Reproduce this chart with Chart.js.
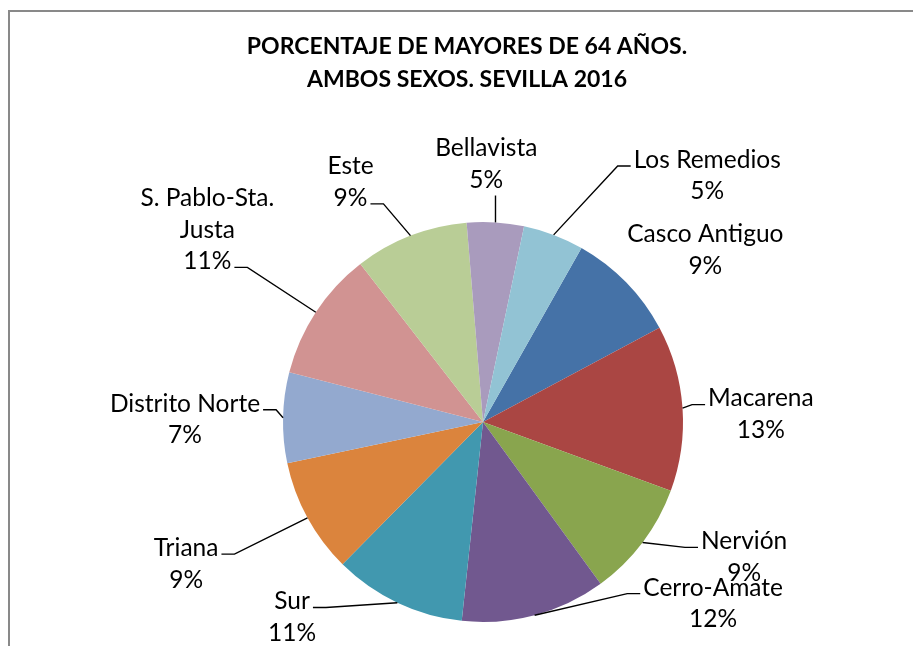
<!DOCTYPE html>
<html>
<head>
<meta charset="utf-8">
<script src="https://cdn.jsdelivr.net/npm/chart.js@4.4.0/dist/chart.umd.min.js"></script>
<style>
    html, body { margin: 0; padding: 0; background: #fff; }
</style>
</head>
<body>
<canvas id="myChart" width="913" height="646"></canvas>
<script>
var titleLines = ['PORCENTAJE DE MAYORES DE 64 AÑOS.', 'AMBOS SEXOS. SEVILLA 2016'];
var districts = [['Casco Antiguo'], ['Macarena'], ['Nervión'], ['Cerro-Amate'], ['Sur'], ['Triana'],
    ['Distrito Norte'], ['S. Pablo-Sta.', 'Justa'], ['Este'], ['Bellavista'], ['Los Remedios']];
var shares = [9.0, 13.4, 9.4, 11.7, 10.7, 9.3, 7.3, 10.5, 9.2, 4.6, 4.9];
var colors = ['#4572A7', '#AA4643', '#89A54E', '#71588F', '#4198AF', '#DB843D',
    '#93A9CF', '#D19392', '#B9CD96', '#A99BBD', '#92C3D4'];

// where each label sits: [angle shift from slice middle (deg), distance in radii]
var labelPlace = [[6.6, 1.405], [2.4, 1.39], [-9.7, 1.47], [-36.8, 1.465], [19, 1.365], [3.1, 1.645],
    [-0.75, 1.49], [1.6, 1.68], [-7.65, 1.37], [-2.85, 1.29], [21.65, 1.665]];

var LABEL_FONT = '24.5px Lato';
var LINE_H = 31.5;

// frame + title
const frame = {
    id: 'frame',
    beforeDraw(chart) {
        const ctx = chart.ctx;
        ctx.save();
        ctx.fillStyle = '#fff';
        ctx.fillRect(0, 0, chart.width, chart.height);
        ctx.strokeStyle = '#898989';
        ctx.lineWidth = 2;
        ctx.beginPath();
        ctx.moveTo(9, chart.height);
        ctx.lineTo(9, 11);
        ctx.lineTo(chart.width, 11);
        ctx.stroke();
        ctx.fillStyle = '#000';
        ctx.font = 'bold 23px Lato';
        ctx.textAlign = 'center';
        ctx.textBaseline = 'middle';
        titleLines.forEach((t, i) => ctx.fillText(t, 467, 47 + i * 33));
        ctx.restore();
    }
};

// outside labels with leader lines
const pieLabels = {
    id: 'pieLabels',
    afterDatasetsDraw(chart) {
        const ctx = chart.ctx;
        const meta = chart.getDatasetMeta(0);
        const total = shares.reduce((a, b) => a + b, 0);
        ctx.save();
        ctx.font = LABEL_FONT;
        ctx.fillStyle = '#000';
        ctx.strokeStyle = '#000';
        ctx.lineWidth = 1.4;
        ctx.textAlign = 'center';
        ctx.textBaseline = 'middle';
        meta.data.forEach((arc, i) => {
            const p = arc.getProps(['x', 'y', 'startAngle', 'endAngle', 'outerRadius'], true);
            const mid = (p.startAngle + p.endAngle) / 2;
            const a = mid + labelPlace[i][0] * Math.PI / 180;
            const d = p.outerRadius * labelPlace[i][1];
            const cx = p.x + Math.cos(a) * d;
            const cy = p.y + Math.sin(a) * d;
            const lines = districts[i].concat([Math.round(shares[i] / total * 100) + '%']);
            const y0 = cy - (lines.length - 1) * LINE_H / 2;
            const widths = lines.map(t => ctx.measureText(t).width);
            lines.forEach((t, k) => ctx.fillText(t, cx, y0 + k * LINE_H));

            const ex = p.x + Math.cos(mid) * p.outerRadius;
            const ey = p.y + Math.sin(mid) * p.outerRadius;
            const maxW = Math.max.apply(null, widths);
            const box = { l: cx - maxW / 2, r: cx + maxW / 2, t: y0 - LINE_H / 2, b: y0 + (lines.length - 0.5) * LINE_H };
            const nx = Math.max(box.l, Math.min(ex, box.r));
            const ny = Math.max(box.t, Math.min(ey, box.b));
            if (Math.hypot(ex - nx, ey - ny) < 12) return;

            ctx.beginPath();
            if (ex >= box.l && ex <= box.r) {
                ctx.moveTo(ex, ey);
                ctx.lineTo(ex, ey < box.t ? box.t : box.b);
            } else {
                const side = ex > box.r ? 1 : -1;
                let k = 0;
                if (side > 0) {
                    let best = Infinity;
                    lines.forEach((t, j) => {
                        const dy = Math.abs(y0 + j * LINE_H - ey);
                        if (dy < best) { best = dy; k = j; }
                    });
                }
                const ly = y0 + k * LINE_H + 6;
                const ax = cx + side * (widths[k] / 2 + 3);
                ctx.moveTo(ex, ey);
                ctx.lineTo(ax + side * 13, ly);
                ctx.lineTo(ax, ly);
            }
            ctx.stroke();
        });
        ctx.restore();
    }
};

const ctx = document.getElementById('myChart').getContext('2d');
const myChart = new Chart(ctx, {
    type: 'pie',
    data: {
        labels: districts.map(d => d.join(' ')),
        datasets: [{
            data: shares,
            backgroundColor: colors,
            borderWidth: 0
        }]
    },
    options: {
        responsive: false,
        animation: false,
        rotation: 29.5,
        layout: {
            padding: { left: 283, right: 230, top: 222, bottom: 24 }
        },
        plugins: {
            legend: { display: false },
            tooltip: { enabled: false },
            title: { display: false }
        }
    },
    plugins: [frame, pieLabels]
});
</script>
</body>
</html>
